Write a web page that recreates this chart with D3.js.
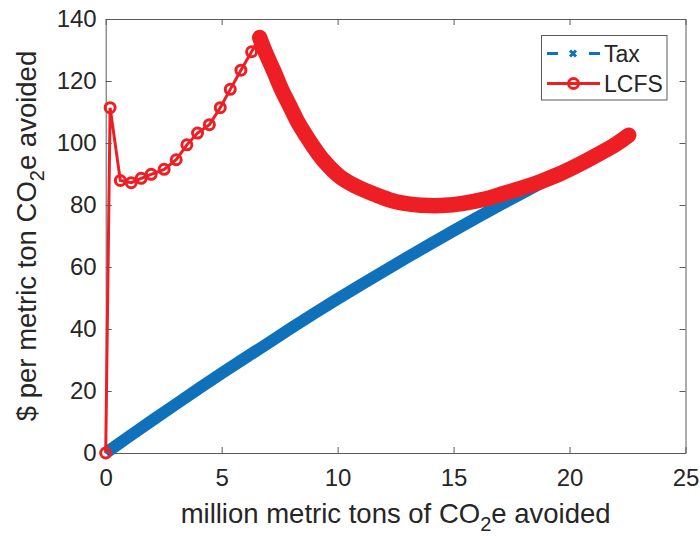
<!DOCTYPE html>
<html>
<head>
<meta charset="utf-8">
<script src="https://cdn.jsdelivr.net/npm/d3@7"></script>
<style>
  body { margin: 0; background: #fff; }
  text { font-family: "Liberation Sans", Arial, Helvetica, sans-serif; }
</style>
</head>
<body>
<div id="chart"></div>
<script>
// Tax series (million t, $/t)
let taxX = [0, 1, 2, 3, 4, 5, 6, 7, 8, 9, 10, 11, 12, 13, 14, 15, 16, 17, 18, 19, 19.8];
let taxY = [0, 5.3, 10.5, 15.6, 20.7, 25.7, 30.6, 35.4, 40.3, 45.1, 49.7, 54.2, 58.7, 63.1, 67.4, 71.7, 75.9, 80.0, 84.0, 88.0, 91.0];

// LCFS, sparse part with visible circle markers
let lcfsX = [0, 0.19, 0.63, 1.1, 1.53, 1.96, 2.52, 3.04, 3.5, 3.96, 4.47, 4.94, 5.37, 5.83, 6.29];
let lcfsY = [0, 111.4, 87.9, 87.2, 88.6, 89.9, 91.5, 94.6, 99.4, 103.2, 105.9, 111.4, 117.3, 123.5, 129.4];

// LCFS, dense part (markers merge into a thick band)
let lcfsDenseX = [6.64, 6.9, 7.23, 7.6, 7.96, 8.3, 8.68, 9.0, 9.39, 10.12, 10.8, 11.55, 12.4, 13.2, 14.0, 14.8, 15.6, 16.4, 17.2, 18.0, 18.8, 19.6, 20.4, 21.2, 22.0, 22.55];
let lcfsDenseY = [134, 129, 123.5, 117, 111.6, 106.5, 101.9, 98.3, 94.4, 89.0, 86.0, 83.6, 81.3, 80.2, 79.8, 80.0, 80.8, 82.0, 83.8, 85.6, 87.7, 90.1, 93.0, 96.2, 99.6, 102.5];

let xTicks = [0, 5, 10, 15, 20, 25];
let yTicks = [0, 20, 40, 60, 80, 100, 120, 140];
let seriesNames = ["Tax", "LCFS"];

let width = 700, height = 536;
let plotLeft = 105.7, plotRight = 685.5, plotTop = 19, plotBottom = 453;
let blue = "#1071bb", red = "#ed1f24", axisColor = "#5a5a5a", textColor = "#262626";

let svg = d3.select("#chart")
	.append("svg")
	.attr("width", width)
	.attr("height", height);

let xScale = d3.scaleLinear().domain([0, 25]).range([plotLeft, plotRight]);
let yScale = d3.scaleLinear().domain([0, 140]).range([plotBottom, plotTop]);

let zip = (xs, ys) => xs.map((x, i) => [x, ys[i]]);
let line = d3.line().x(d => xScale(d[0])).y(d => yScale(d[1]));

// axes (MATLAB style box, ticks inside)
let xAxis = d3.axisBottom(xScale).tickValues(xTicks).tickSizeInner(-6).tickSizeOuter(0).tickPadding(16);
let yAxis = d3.axisLeft(yScale).tickValues(yTicks).tickSizeInner(-6).tickSizeOuter(0).tickPadding(9);

svg.append("g").attr("transform", `translate(0,${plotBottom})`).call(xAxis);
svg.append("g").attr("transform", `translate(${plotLeft},0)`).call(yAxis);
svg.append("g").attr("transform", `translate(0,${plotTop})`)
	.call(d3.axisTop(xScale).tickValues(xTicks).tickSizeInner(-6).tickSizeOuter(0).tickFormat(""));
svg.append("g").attr("transform", `translate(${plotRight},0)`)
	.call(d3.axisRight(yScale).tickValues(yTicks).tickSizeInner(-6).tickSizeOuter(0).tickFormat(""));

svg.selectAll(".domain").attr("stroke", axisColor);
svg.selectAll(".tick line").attr("stroke", axisColor);
svg.selectAll(".tick text")
	.style("font-size", "24px")
	.attr("fill", textColor);

// Tax line
svg.append("path")
	.datum(zip(taxX, taxY))
	.attr("d", line)
	.attr("fill", "none")
	.attr("stroke", blue)
	.attr("stroke-width", 12)
	.attr("stroke-linejoin", "round");

// LCFS
let sparse = zip(lcfsX, lcfsY);
let dense = zip(lcfsDenseX, lcfsDenseY);

svg.append("path")
	.datum(sparse.concat([dense[0]]))
	.attr("d", line)
	.attr("fill", "none")
	.attr("stroke", red)
	.attr("stroke-width", 3);

let smooth = d3.line().x(d => xScale(d[0])).y(d => yScale(d[1])).curve(d3.curveCatmullRom);
svg.append("path")
	.datum(dense)
	.attr("d", smooth)
	.attr("fill", "none")
	.attr("stroke", red)
	.attr("stroke-width", 15.5)
	.attr("stroke-linecap", "round")
	.attr("stroke-linejoin", "round");

svg.selectAll(".lcfs-dot")
	.data(sparse)
	.enter()
	.append("circle")
	.attr("class", "lcfs-dot")
	.attr("cx", d => xScale(d[0]))
	.attr("cy", d => yScale(d[1]))
	.attr("r", 5)
	.attr("fill", "none")
	.attr("stroke", red)
	.attr("stroke-width", 3);

// axis titles
let xt = svg.append("text")
	.attr("x", (plotLeft + plotRight) / 2)
	.attr("y", 523)
	.attr("text-anchor", "middle")
	.style("font-size", "27.5px")
	.attr("fill", textColor);
xt.append("tspan").text("million metric tons of CO");
xt.append("tspan").attr("dy", 8).style("font-size", "20px").text("2");
xt.append("tspan").attr("dy", -8).text("e avoided");

let yt = svg.append("text")
	.attr("transform", `translate(36,${(plotTop + plotBottom) / 2}) rotate(-90)`)
	.attr("text-anchor", "middle")
	.style("font-size", "27.5px")
	.attr("fill", textColor);
yt.append("tspan").text("$ per metric ton CO");
yt.append("tspan").attr("dy", 8).style("font-size", "20px").text("2");
yt.append("tspan").attr("dy", -8).text("e avoided");

// legend
let lg = svg.append("g");
lg.append("rect")
	.attr("x", 541.5).attr("y", 35.5)
	.attr("width", 125.5).attr("height", 64.5)
	.attr("fill", "#fff")
	.attr("stroke", axisColor);

let rows = lg.selectAll(".legend")
	.data(seriesNames)
	.enter()
	.append("g")
	.attr("class", "legend")
	.attr("transform", (d, i) => `translate(0,${53.5 + i * 30})`);

rows.append("text")
	.attr("x", 604)
	.attr("y", 0)
	.attr("dy", "0.35em")
	.style("font-size", "23px")
	.attr("fill", textColor)
	.text(d => d);

let taxRow = rows.filter(d => d == "Tax");
taxRow.append("line").attr("x1", 547).attr("x2", 558).attr("y1", 0).attr("y2", 0)
	.attr("stroke", blue).attr("stroke-width", 3);
taxRow.append("line").attr("x1", 589).attr("x2", 600).attr("y1", 0).attr("y2", 0)
	.attr("stroke", blue).attr("stroke-width", 3);
taxRow.append("path")
	.attr("d", "M570,-3L576,3M570,3L576,-3")
	.attr("stroke", blue).attr("stroke-width", 3);

let lcfsRow = rows.filter(d => d == "LCFS");
lcfsRow.append("line").attr("x1", 547).attr("x2", 600).attr("y1", 0).attr("y2", 0)
	.attr("stroke", red).attr("stroke-width", 3);
lcfsRow.append("circle").attr("cx", 573.5).attr("cy", 0).attr("r", 5)
	.attr("fill", "none").attr("stroke", red).attr("stroke-width", 3);
</script>
</body>
</html>
